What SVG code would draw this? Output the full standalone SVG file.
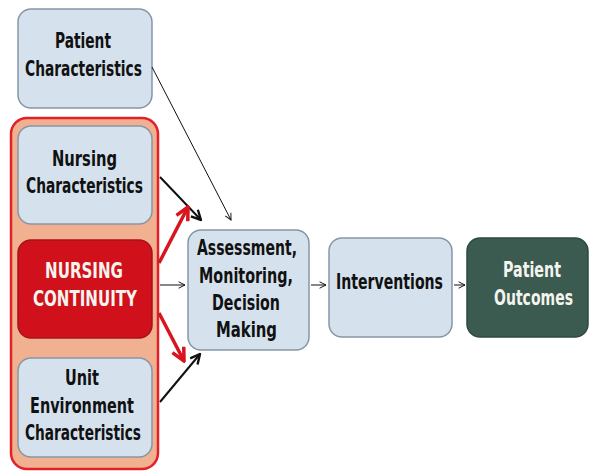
<svg xmlns="http://www.w3.org/2000/svg" width="600" height="475" viewBox="0 0 600 475">
<defs>
<style>
.box{fill:#d5e2ee;stroke:#8796a6;stroke-width:1.5}
.t{font-family:"DejaVu Sans Condensed","Liberation Sans",sans-serif;font-weight:bold;font-size:22px;text-anchor:middle;fill:#111}
.w{fill:#f4f4ee}
.thin{stroke:#111;stroke-width:1;fill:none}
.med{stroke:#111;stroke-width:2;fill:none}
.red{stroke:#d8141e;stroke-width:3.5;fill:none}
</style>
<marker id="ao" viewBox="0 0 10 10" refX="9" refY="5" markerWidth="8" markerHeight="8" markerUnits="userSpaceOnUse" orient="auto"><path d="M1,1 L9,5 L1,9" fill="none" stroke="#111" stroke-width="1.2"/></marker>
<marker id="am" viewBox="0 0 10 10" refX="9" refY="5" markerWidth="12" markerHeight="12" markerUnits="userSpaceOnUse" orient="auto"><path d="M1,1 L9,5 L1,9" fill="none" stroke="#111" stroke-width="2"/></marker>
<marker id="ar" viewBox="0 0 10 10" refX="9" refY="5" markerWidth="16" markerHeight="16" markerUnits="userSpaceOnUse" orient="auto"><path d="M1,1 L9,5 L1,9" fill="none" stroke="#d8141e" stroke-width="2.2"/></marker>
</defs>
<rect width="600" height="475" fill="#fff"/>
<g id="continuity-group"><rect x="11" y="118" width="147" height="351" rx="16" fill="#f1b08f" stroke="#e2202a" stroke-width="2.5"/></g>
<g id="patient-characteristics"><rect class="box" x="18" y="9" width="134" height="99" rx="13"/><text class="t" x="83" y="48" textLength="56" lengthAdjust="spacingAndGlyphs">Patient</text><text class="t" x="83.5" y="76" textLength="117" lengthAdjust="spacingAndGlyphs">Characteristics</text></g>
<g id="nursing-characteristics"><rect class="box" x="18" y="126" width="134" height="98" rx="13"/><text class="t" x="84.5" y="166" textLength="65" lengthAdjust="spacingAndGlyphs">Nursing</text><text class="t" x="84.5" y="193" textLength="117" lengthAdjust="spacingAndGlyphs">Characteristics</text></g>
<g id="nursing-continuity"><rect x="18" y="240" width="134" height="98" rx="13" fill="#d0111c" stroke="#a8121b" stroke-width="1.5"/><text class="t w" x="84" y="278" textLength="78" lengthAdjust="spacingAndGlyphs">NURSING</text><text class="t w" x="85" y="306" textLength="104" lengthAdjust="spacingAndGlyphs">CONTINUITY</text></g>
<g id="unit-environment"><rect class="box" x="18" y="358" width="134" height="99" rx="13"/><text class="t" x="82" y="385" textLength="34" lengthAdjust="spacingAndGlyphs">Unit</text><text class="t" x="82" y="413" textLength="104" lengthAdjust="spacingAndGlyphs">Environment</text><text class="t" x="83" y="440" textLength="116" lengthAdjust="spacingAndGlyphs">Characteristics</text></g>
<g id="assessment"><rect class="box" x="188" y="230" width="121" height="120" rx="13"/><text class="t" x="247" y="255" textLength="100" lengthAdjust="spacingAndGlyphs">Assessment,</text><text class="t" x="246" y="283" textLength="94" lengthAdjust="spacingAndGlyphs">Monitoring,</text><text class="t" x="246" y="310" textLength="68" lengthAdjust="spacingAndGlyphs">Decision</text><text class="t" x="246.5" y="337" textLength="61" lengthAdjust="spacingAndGlyphs">Making</text></g>
<g id="interventions"><rect class="box" x="329" y="238" width="123" height="99" rx="13"/><text class="t" x="389.5" y="289" textLength="107" lengthAdjust="spacingAndGlyphs">Interventions</text></g>
<g id="patient-outcomes"><rect x="467" y="238" width="121" height="99" rx="13" fill="#3b5a50" stroke="#2e4a42" stroke-width="1.5"/><text class="t w" x="532" y="277" textLength="58" lengthAdjust="spacingAndGlyphs">Patient</text><text class="t w" x="533.5" y="305" textLength="79" lengthAdjust="spacingAndGlyphs">Outcomes</text></g>
<g id="connectors">
<line class="thin" x1="152" y1="67" x2="231" y2="220" marker-end="url(#ao)"/>
<line class="med" x1="160" y1="177" x2="201" y2="220" marker-end="url(#am)"/>
<line class="med" x1="160" y1="402" x2="200" y2="354" marker-end="url(#am)"/>
<line class="red" x1="159" y1="263" x2="188" y2="207" marker-end="url(#ar)"/>
<line class="red" x1="159" y1="313" x2="184" y2="361" marker-end="url(#ar)"/>
<line class="thin" x1="160" y1="285" x2="185" y2="285" marker-end="url(#ao)"/>
<line class="thin" x1="311" y1="285" x2="326" y2="285" marker-end="url(#ao)"/>
<line class="thin" x1="454" y1="285" x2="465" y2="285" marker-end="url(#ao)"/>
</g>
</svg>
